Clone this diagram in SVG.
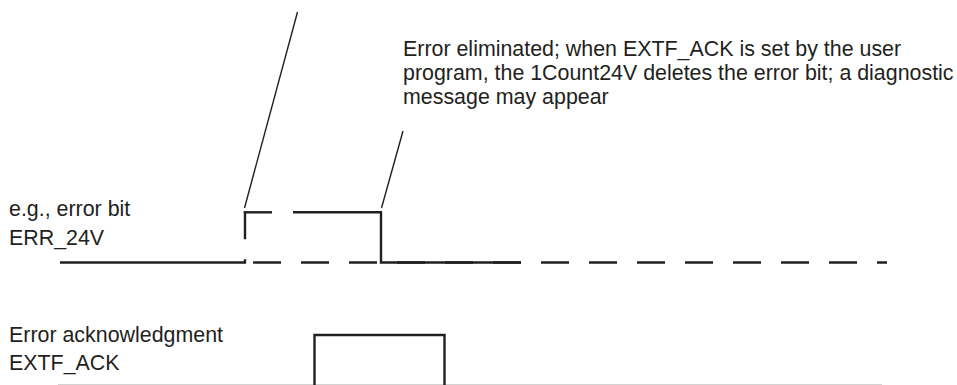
<svg xmlns="http://www.w3.org/2000/svg" width="957" height="385" viewBox="0 0 957 385">
<style>
text{font-family:"Liberation Sans",Arial,sans-serif;font-size:21.4px;fill:#231f20}
.sig{fill:none;stroke:#231f20;stroke-width:2.4;stroke-linecap:butt;stroke-linejoin:miter}
.lead{fill:none;stroke:#231f20;stroke-width:1.4}
</style>
<rect width="957" height="385" fill="#fff"/>
<g id="labels">
<text x="9" y="216">e.g., error bit</text>
<text x="9" y="245">ERR_24V</text>
<text x="9" y="342">Error acknowledgment</text>
<text x="9" y="370">EXTF_ACK</text>
</g>
<g id="note">
<text x="403" y="56">Error eliminated; when EXTF_ACK is set by the user</text>
<text x="403" y="80">program, the 1Count24V deletes the error bit; a diagnostic</text>
<text x="403" y="104">message may appear</text>
</g>
<g id="connectors">
<line class="lead" x1="297.5" y1="12" x2="244.5" y2="208"/>
<line class="lead" x1="403" y1="131" x2="381.5" y2="208"/>
</g>
<g id="err24v">
<path class="sig" d="M60 262.5 H245.5"/>
<path class="sig" d="M253 262.5 H887" stroke-dasharray="28 20"/>
<path class="sig" d="M245 211.3 V263.5" stroke-dasharray="28 20"/>
<path class="sig" d="M243.8 212.3 H272"/>
<path class="sig" d="M293 212.3 H381 V262.5 H521"/>
</g>
<g id="extfack">
<line x1="58" y1="384.5" x2="882" y2="384.5" stroke="#d2d2d2" stroke-width="1"/>
<path class="sig" d="M314.5 387 V335 H444.5 V387"/>
</g>
</svg>
